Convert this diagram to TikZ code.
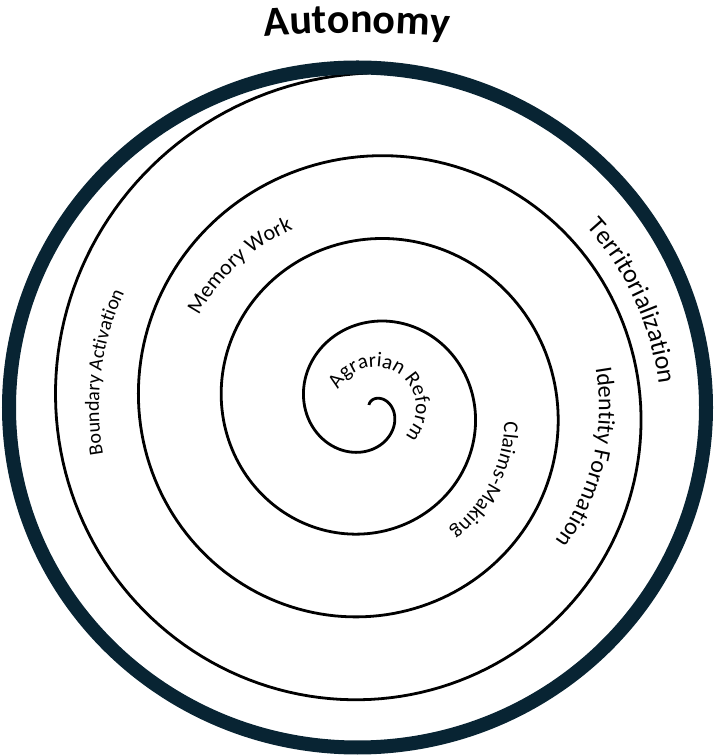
\documentclass[tikz,border=0pt]{standalone}
\usepackage{fontspec}
\setmainfont{Carlito}
\usepackage{tikz}
\usetikzlibrary{decorations.text}

\definecolor{ringnavy}{RGB}{8,36,51}
% radius of the spiral at angle #1 (pt)
\newcommand\turnr[1]{(85+(90-(#1))/360*83)}

\begin{document}
\begin{tikzpicture}[
    x=1pt, y=1pt,
    spiral/.style={line width=2.8pt, draw=black},
    ring/.style={line width=14pt, draw=ringnavy},
    arclabel/.style 2 args={decorate, decoration={text along path, text align=center, text={|\fontsize{#1}{#1}\selectfont|#2}}},
    titlelabel/.style={decorate, decoration={text along path, text align=center, text={|\fontsize{42}{42}\selectfont\bfseries|#1}}}
]
    \useasboundingbox (0,0) rectangle (713,755);
    \coordinate (hub) at (369,348);
    \coordinate (core) at (375,347);
    \coordinate (rim) at (357.5,347.5);
    \coordinate (crown) at (357,-378);

    % spiral, winding clockwise outwards
    \draw[spiral, shift={(hub)}] plot[domain=450:-990, samples=720, variable=\t]
        ({\turnr{\t}*cos(\t)}, {\turnr{\t}*sin(\t)});
    % outer ring
    \draw[ring] (rim) ellipse [x radius=348.5pt, y radius=340pt];

    % title
    \path[titlelabel={Autonomy}] (crown) ++(100:1100pt) arc[start angle=100, end angle=80, radius=1100pt];

    % labels along the turns
    \path[arclabel={21}{Agrarian Reform}] (core) ++(205:41pt) arc[start angle=205, end angle=-95, radius=41pt];
    \path[arclabel={21}{Claims-Making}, shift={(hub)}] plot[domain=20:-80, samples=60, variable=\t]
        ({(\turnr{\t}+29)*cos(\t)}, {(\turnr{\t}+29)*sin(\t)});
    \path[arclabel={24}{Identity Formation}] (hub) ++(35:230pt) arc[start angle=35, end angle=-61, radius=230pt];
    \path[arclabel={26}{Territorialization}, shift={(hub)}] plot[domain=-645:-749, samples=80, variable=\t]
        ({(\turnr{\t}+20)*cos(\t)}, {(\turnr{\t}+20)*sin(\t)});
    \path[arclabel={22}{Memory Work}] (hub) ++(177:193pt) arc[start angle=177, end angle=88, radius=193pt];
    \path[arclabel={20}{Boundary Activation}] (hub) ++(215:270pt) arc[start angle=215, end angle=130, radius=270pt];
\end{tikzpicture}
\end{document}
